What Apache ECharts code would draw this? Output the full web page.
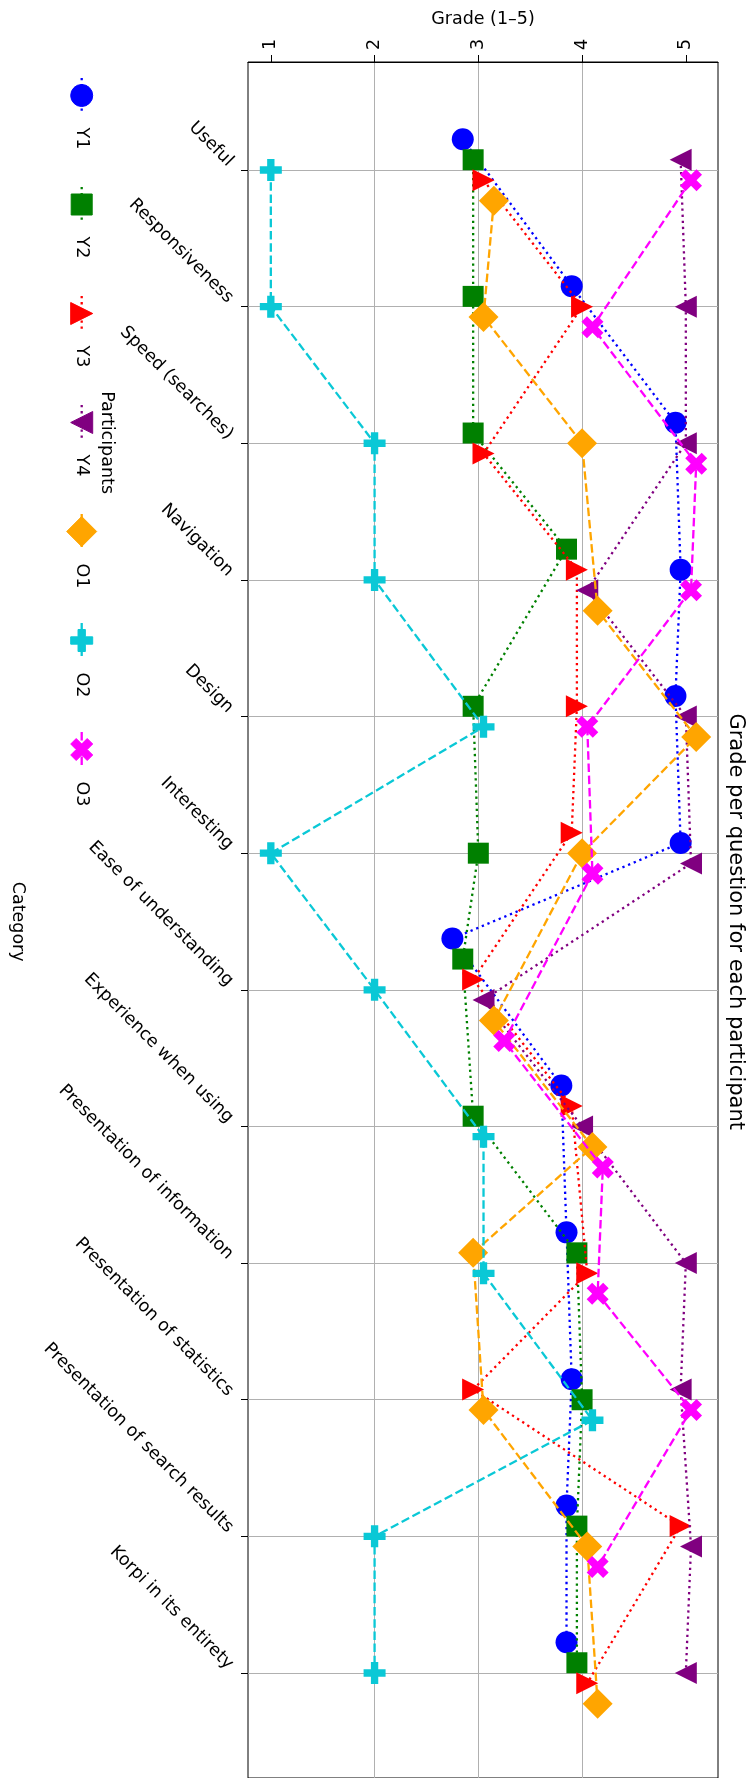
<!DOCTYPE html>
<html>
<head>
<meta charset="utf-8">
<script src="https://cdn.jsdelivr.net/npm/echarts@6/dist/echarts.min.js"></script>
<style>
  html, body { margin: 0; padding: 0; background: #ffffff; }
  #chart { width: 756px; height: 1778px; }
</style>
</head>
<body>
<div id="chart"></div>
<script>
// ---------------- data ----------------
const categories = [
  'Useful', 'Responsiveness', 'Speed (searches)', 'Navigation', 'Design',
  'Interesting', 'Ease of understanding', 'Experience when using',
  'Presentation of information', 'Presentation of statistics',
  'Presentation of search results', 'Korpi in its entirety'
];
const gradeTicks = [1, 2, 3, 4, 5];
const participants = ['Y1', 'Y2', 'Y3', 'Y4', 'O1', 'O2', 'O3'];
const Y1 = [3, 4, 5, 5, 5, 5, 3, 4, 4, 4, 4, 4];
const Y2 = [3, 3, 3, 4, 3, 3, 3, 3, 4, 4, 4, 4];
const Y3 = [3, 4, 3, 4, 4, 4, 3, 4, 4, 3, 5, 4];
const Y4 = [5, 5, 5, 4, 5, 5, 3, 4, 5, 5, 5, 5];
const O1 = [3, 3, 4, 4, 5, 4, 3, 4, 3, 3, 4, 4];
const O2 = [1, 1, 2, 2, 3, 1, 2, 3, 3, 4, 2, 2];
const O3 = [5, 4, 5, 5, 4, 4, 3, 4, 4, 5, 4, null];
const seriesValues = [Y1, Y2, Y3, Y4, O1, O2, O3];

// ---------------- styles ----------------
const FONT = 'DejaVu Sans';
const FS = 17.5;
const LW = 2.3;
const colors = ['#0000ff', '#008000', '#ff0000', '#800080', '#ffa500', '#0ac8d6', '#ff00ff'];
const DOT = [2.3, 3.8];
const DASH = [8.5, 3.7];
const dashes = [DOT, DOT, DOT, DOT, DASH, DASH, DASH];
const PLUS_PATH = 'path://M2,0L4,0L4,2L6,2L6,4L4,4L4,6L2,6L2,4L0,4L0,2L2,2Z';
const X_PATH = 'path://M1,0L2,1L3,0L4,1L3,2L4,3L3,4L2,3L1,4L0,3L1,2L0,1Z';
const symbols = ['circle', 'rect', 'triangle', 'triangle', 'diamond', PLUS_PATH, X_PATH];
const symbolRot = [0, 0, -90, 90, 0, 0, 0];
const symbolSizes = [22, 21, 22, 22, 30, 22, 22];
// dodge of overlapping markers (layout only)
const DODGE_X = 0.1, DODGE_Y = 0.15;

function dodgedPoints(si) {
  const pts = [];
  categories.forEach((c, ci) => {
    const g = seriesValues[si][ci];
    if (g == null) return;
    const group = [];
    seriesValues.forEach((v, k) => { if (v[ci] === g) group.push(k); });
    const d = group.indexOf(si) - (group.length - 1) / 2;
    pts.push([g + DODGE_X * d, ci + DODGE_Y * d]);
  });
  return pts;
}

const series = participants.map((name, si) => ({
  name: name,
  type: 'line',
  xAxisIndex: 1,
  yAxisIndex: 1,
  data: dodgedPoints(si),
  clip: false,
  symbol: symbols[si],
  symbolSize: symbolSizes[si],
  symbolRotate: symbolRot[si],
  showAllSymbol: true,
  lineStyle: { color: colors[si], width: LW, type: dashes[si], cap: 'butt' },
  itemStyle: { color: colors[si], borderColor: colors[si], borderWidth: 0 },
  emphasis: { disabled: true },
  z: 2 + si
}));

// ---------------- legend (rotated, drawn as graphic) ----------------
const LEG_X = 81.7, LEG_Y0 = 95.5, LEG_STEP = 109;
function legendMarker(si, cx, cy) {
  const c = colors[si];
  const st = { fill: c, stroke: c, lineWidth: 1 };
  const s = symbolSizes[si] / 2;
  const poly = (pts) => ({ type: 'polygon', shape: { points: pts }, style: st, z: 10 });
  switch (si) {
    case 0: return { type: 'circle', shape: { cx: cx, cy: cy, r: s }, style: st, z: 10 };
    case 1: return { type: 'rect', shape: { x: cx - s, y: cy - s, width: 2 * s, height: 2 * s }, style: st, z: 10 };
    case 2: return poly([[cx - s, cy - s], [cx + s, cy], [cx - s, cy + s]]);
    case 3: return poly([[cx + s, cy - s], [cx - s, cy], [cx + s, cy + s]]);
    case 4: return poly([[cx, cy - s], [cx + s, cy], [cx, cy + s], [cx - s, cy]]);
    case 5: {
      const u = s / 3;
      const P = [[-1, -3], [1, -3], [1, -1], [3, -1], [3, 1], [1, 1], [1, 3], [-1, 3], [-1, 1], [-3, 1], [-3, -1], [-1, -1]];
      return poly(P.map(p => [cx + p[0] * u, cy + p[1] * u]));
    }
    default: {
      const u = s / 2;
      const P = [[-1, -2], [0, -1], [1, -2], [2, -1], [1, 0], [2, 1], [1, 2], [0, 1], [-1, 2], [-2, 1], [-1, 0], [-2, -1]];
      return poly(P.map(p => [cx + p[0] * u, cy + p[1] * u]));
    }
  }
}
const graphics = [];
participants.forEach((name, si) => {
  const cy = LEG_Y0 + si * LEG_STEP;
  graphics.push({
    type: 'line', shape: { x1: LEG_X, y1: cy - 17.5, x2: LEG_X, y2: cy + 17.5 },
    style: { stroke: colors[si], lineWidth: LW, lineDash: dashes[si] }, z: 9
  });
  graphics.push(legendMarker(si, LEG_X, cy));
  graphics.push({
    type: 'text', x: LEG_X, y: cy + 32, rotation: -Math.PI / 2,
    style: { text: name, font: FS + 'px "' + FONT + '"', fill: '#000', align: 'left', verticalAlign: 'middle' }, z: 10
  });
});
graphics.push({
  type: 'text', x: 107, y: 442.6, rotation: -Math.PI / 2,
  style: { text: 'Participants', font: FS + 'px "' + FONT + '"', fill: '#000', align: 'center', verticalAlign: 'middle' }
});
graphics.push({
  type: 'text', x: 18, y: 921.7, rotation: -Math.PI / 2,
  style: { text: 'Category', font: FS + 'px "' + FONT + '"', fill: '#000', align: 'center', verticalAlign: 'middle' }
});
graphics.push({
  type: 'text', x: 735, y: 921.7, rotation: -Math.PI / 2,
  style: { text: 'Grade per question for each participant', font: '21px "' + FONT + '"', fill: '#000', align: 'center', verticalAlign: 'middle' }
});

// ---------------- chart ----------------
const chart = echarts.init(document.getElementById('chart'), null, { renderer: 'canvas' });
const GRADE_MIN = 0.78, GRADE_MAX = 5.31;
chart.setOption({
  animation: false,
  backgroundColor: '#ffffff',
  textStyle: { fontFamily: FONT },
  grid: [
    { left: 248, right: 38, top: 62, bottom: -4, show: true, borderColor: '#000', borderWidth: 1, backgroundColor: 'transparent', containLabel: false },
    { left: 248, right: 38, top: 170, bottom: 105, containLabel: false }
  ],
  xAxis: [
    {
      gridIndex: 0, type: 'value', position: 'top', min: GRADE_MIN, max: GRADE_MAX,
      name: 'Grade (1–5)', nameLocation: 'middle', nameGap: 34,
      nameTextStyle: { fontFamily: FONT, fontSize: FS, color: '#000' },
      axisLine: { show: true, onZero: false, lineStyle: { color: '#000', width: 1 } },
      axisTick: { show: true, length: 7, lineStyle: { color: '#000', width: 1 }, customValues: gradeTicks },
      axisLabel: {
        rotate: -90, margin: 12, fontFamily: FONT, fontSize: FS, color: '#000',
        customValues: gradeTicks,
        formatter: v => (Math.abs(v - Math.round(v)) < 1e-6 ? String(Math.round(v)) : '')
      },
      splitLine: { show: true, showMinLine: false, showMaxLine: false, lineStyle: { color: '#b0b0b0', width: 1 } }
    },
    {
      gridIndex: 1, type: 'value', min: GRADE_MIN, max: GRADE_MAX, show: false,
      axisLine: { show: false, onZero: false }, axisTick: { show: false }, axisLabel: { show: false },
      splitLine: { show: false }
    }
  ],
  yAxis: [
    {
      gridIndex: 0, type: 'value', min: 0, max: 1, show: false,
      axisLine: { show: false, onZero: false }, axisTick: { show: false }, axisLabel: { show: false },
      splitLine: { show: false }
    },
    {
      gridIndex: 1, type: 'value', min: 0, max: categories.length - 1, interval: 1, inverse: true,
      axisLine: { show: false, onZero: false },
      axisTick: { show: true, length: 7, lineStyle: { color: '#000', width: 1 } },
      axisLabel: {
        rotate: -45, align: 'right', verticalAlign: 'bottom', margin: 24,
        fontFamily: FONT, fontSize: FS, color: '#000',
        formatter: v => categories[Math.round(v)] || ''
      },
      splitLine: { show: true, lineStyle: { color: '#b0b0b0', width: 1 } }
    }
  ],
  series: series,
  graphic: graphics
});
</script>
</body>
</html>
